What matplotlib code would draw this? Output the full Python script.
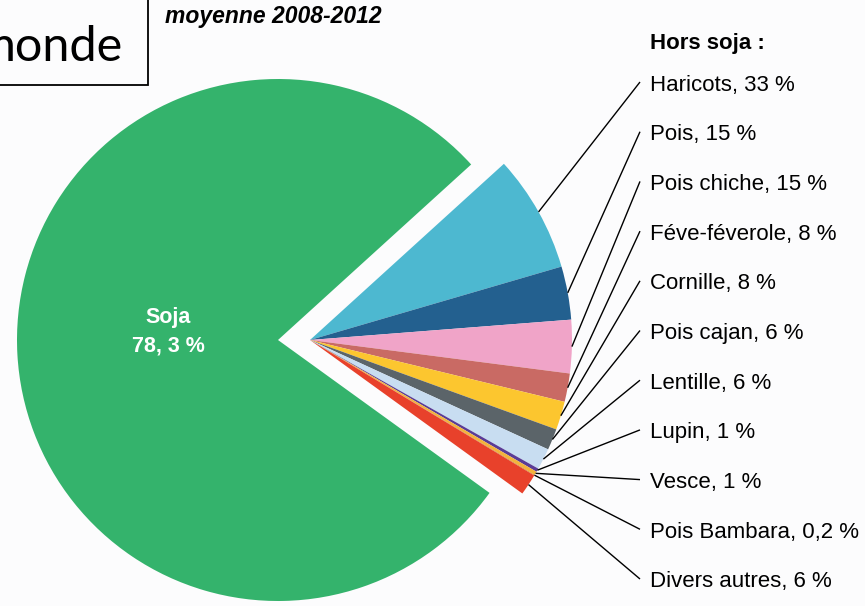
import matplotlib.pyplot as plt
from matplotlib.patches import Rectangle
import numpy as np

# data
soja_share = 78.3
soja_label = 'Soja\n78, 3 %'
hors_labels = ['Haricots', 'Pois', 'Pois chiche', 'Féve-féverole', 'Cornille',
               'Pois cajan', 'Lentille', 'Lupin', 'Vesce', 'Pois Bambara',
               'Divers autres']
hors_pct = [33, 15, 15, 8, 8, 6, 6, 1, 1, 0.2, 6]
hors_pct_text = ['33', '15', '15', '8', '8', '6', '6', '1', '1', '0,2', '6']
hors_colors = ['#4db8d0', '#23608f', '#f0a4c8', '#c96a64', '#fcc62f',
               '#5b6469', '#c8ddf1', '#5a3c96', '#f3b33a', '#d8862c', '#e8412b']
soja_color = '#34b36c'

plt.rcParams['font.family'] = ['Liberation Sans', 'DejaVu Sans']

W, H = 865, 606
fig = plt.figure(figsize=(W / 100, H / 100), dpi=100)
fig.patch.set_facecolor('#fcfcfd')
ax = fig.add_axes([0, 0, 1, 1])

# hors soja part shares the remaining 21.7 % of the disc
rest = (100 - soja_share) / 100
fracs = [rest * p / sum(hors_pct) for p in hors_pct]
start = 3.2 + rest * 360 / 2

# green slice, pushed a bit to the left
ax.pie([soja_share / 100], colors=[soja_color], startangle=start,
       counterclock=True, normalize=False, center=(278, 266), radius=261,
       frame=True)

# the other pulses, pushed a bit to the right
hc = (310, 266)
R = 262
wedges, _ = ax.pie(fracs, colors=hors_colors, startangle=start,
                   counterclock=False, normalize=False, center=hc, radius=R,
                   frame=True)

ax.text(168, H - 332, soja_label, color='white', fontsize=15.5,
        fontweight='bold', ha='center', va='center', linespacing=1.45)

# labels column with leader lines
ax.text(650, H - 43, 'Hors soja :', fontsize=16, fontweight='bold',
        ha='left', va='center')
y0, dy = 85, 49.7
for i, w in enumerate(wedges):
    ly = H - (y0 + i * dy)
    mid = np.deg2rad((w.theta1 + w.theta2) / 2)
    sx = hc[0] + R * np.cos(mid)
    sy = hc[1] + R * np.sin(mid)
    ax.plot([sx, 640], [sy, ly + 3], color='black', lw=1.0,
            solid_capstyle='butt')
    ax.text(650, ly, f'{hors_labels[i]}, {hors_pct_text[i]} %', fontsize=16,
            ha='left', va='center')

ax.text(165, H - 17, 'moyenne 2008-2012', fontsize=16.5, fontweight='bold',
        fontstyle='italic', ha='left', va='center')

# cropped title box
ax.add_patch(Rectangle((-10, H - 85), 158, 100, fill=False, edgecolor='black',
                       lw=1.3))
ax.text(123, H - 47, 'monde', fontsize=35, family=['Lato', 'DejaVu Sans'],
        ha='right', va='center')

ax.set_xlim(0, W)
ax.set_ylim(0, H)
ax.set_aspect('equal')
ax.axis('off')

fig.savefig('out.png', dpi=100, facecolor=fig.get_facecolor())
